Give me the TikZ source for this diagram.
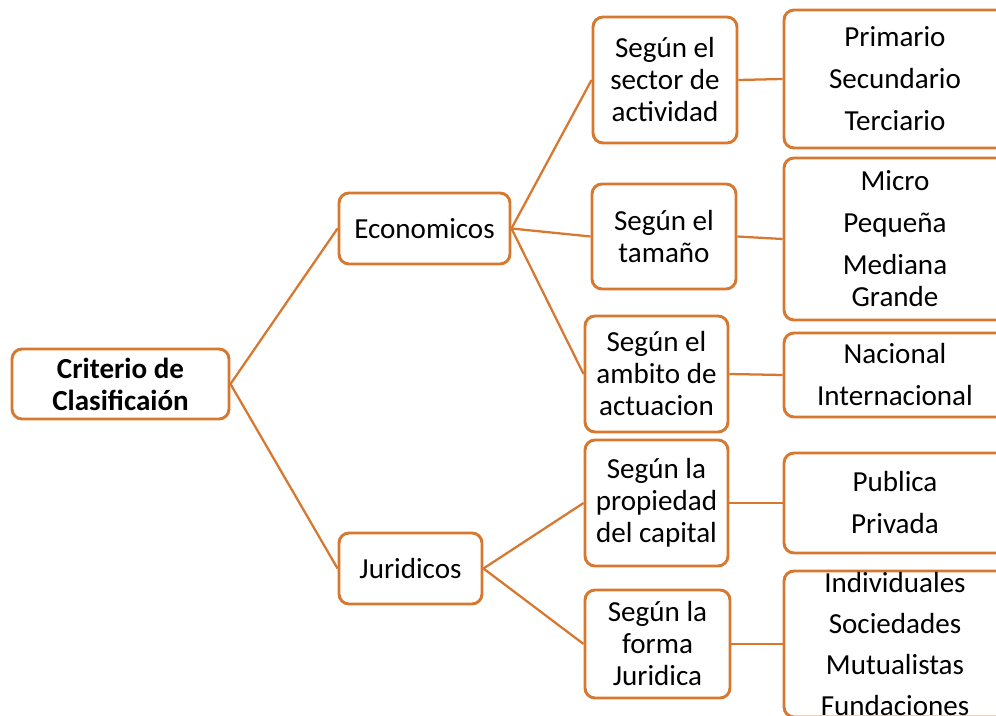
\documentclass[tikz,border=0pt]{standalone}
\usepackage{fontspec}
\setmainfont{Carlito}
\definecolor{orng}{RGB}{215,120,48}
\tikzset{
  box/.style={draw=orng, line width=2.2pt, rounded corners=7.5pt, fill=white, align=center,
    font=\fontsize{21.8}{24}\selectfont, inner sep=0pt},
  conn/.style={draw=orng, line width=1.7pt},
}
\begin{document}
\begin{tikzpicture}[x=0.75pt,y=-0.75pt]
\useasboundingbox (0,0) rectangle (996,716);
\clip (0,0) rectangle (996,716);
\node[box, minimum width=217*0.75pt, minimum height=70*0.75pt] (crit) at (120.5,384) {\bfseries Criterio de\\\bfseries Clasificaión};
\node[box, minimum width=171*0.75pt, minimum height=71*0.75pt] (econ) at (424.5,228.5) {Economicos};
\node[box, minimum width=143*0.75pt, minimum height=71*0.75pt] (jur) at (410.5,568.5) {Juridicos};
\node[box, minimum width=144*0.75pt, minimum height=126*0.75pt] (sector) at (665,80) {Según el\\sector de\\actividad};
\node[box, minimum width=144*0.75pt, minimum height=105*0.75pt] (tam) at (664,236.5) {Según el\\tamaño};
\node[box, minimum width=143*0.75pt, minimum height=116*0.75pt] (amb) at (656.5,374) {Según el\\ambito de\\actuacion};
\node[box, minimum width=143*0.75pt, minimum height=126*0.75pt] (prop) at (656.5,503) {Según la\\propiedad\\del capital};
\node[box, minimum width=145*0.75pt, minimum height=108*0.75pt] (forma) at (657.5,644) {Según la\\forma\\Juridica};
\node[box, minimum width=222*0.75pt, minimum height=138*0.75pt] (sectR) at (895,79) {Primario\\[7.5pt]Secundario\\[7.5pt]Terciario};
\node[box, minimum width=222*0.75pt, minimum height=162*0.75pt] (tamR) at (895,239) {Micro\\[7.5pt]Pequeña\\[7.5pt]Mediana\\Grande};
\node[box, minimum width=222*0.75pt, minimum height=84*0.75pt] (ambR) at (895,375) {Nacional\\[7.5pt]Internacional};
\node[box, minimum width=222*0.75pt, minimum height=100*0.75pt] (propR) at (895,503) {Publica\\[7.5pt]Privada};
\node[box, minimum width=222*0.75pt, minimum height=146*0.75pt] (formaR) at (895,644) {Individuales\\[6.8pt]Sociedades\\[6.8pt]Mutualistas\\[6.8pt]Fundaciones};
\draw[conn] (crit.east) -- (econ.west);
\draw[conn] (crit.east) -- (jur.west);
\draw[conn] (econ.east) -- (sector.west);
\draw[conn] (econ.east) -- (tam.west);
\draw[conn] (econ.east) -- (amb.west);
\draw[conn] (jur.east) -- (prop.west);
\draw[conn] (jur.east) -- (forma.west);
\draw[conn] (sector.east) -- (sectR.west);
\draw[conn] (tam.east) -- (tamR.west);
\draw[conn] (amb.east) -- (ambR.west);
\draw[conn] (prop.east) -- (propR.west);
\draw[conn] (forma.east) -- (formaR.west);
\end{tikzpicture}
\end{document}
